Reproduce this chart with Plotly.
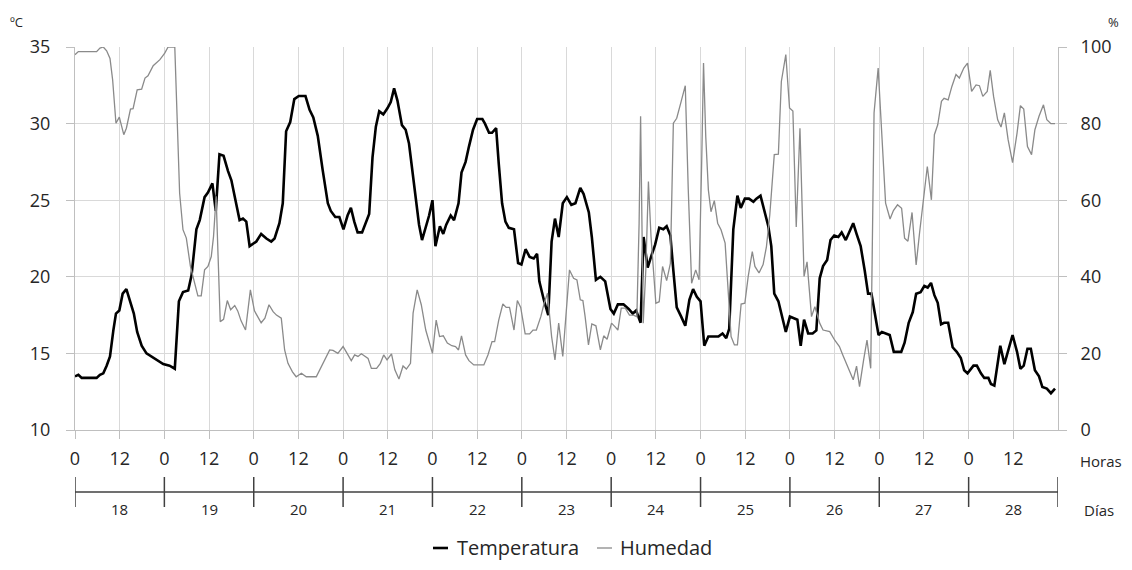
import plotly.graph_objects as go

# ---------------- data (hours since day 18, 00:00) ----------------
temp_hours = [0, 0.9, 1.8, 5.8, 6.7, 7.6, 8.5, 9.4, 10.3, 11.0, 11.9, 12.8, 13.8, 14.7, 15.8, 16.7, 17.9, 19.2, 21.0, 22.3,
              23.7, 25.4, 26.8, 27.9, 29.0, 30.4, 31.3, 32.6, 33.5, 34.8, 35.7, 36.9, 37.8, 38.8, 39.9, 41.1, 42.0, 43.1, 44.2, 45.1,
              46.0, 46.9, 48.7, 50.0, 51.4, 52.7, 53.6, 54.9, 55.8, 56.7, 57.8, 58.9, 60.1, 61.9, 63.0, 64.0, 65.2, 66.5, 67.9, 68.7,
              69.9, 71.0, 72.1, 73.2, 74.1, 75.0, 75.9, 77.1, 78.1, 79.0, 79.9, 80.8, 81.7, 82.8, 83.9, 84.8, 85.7, 86.6, 87.8, 88.8,
              89.7, 90.6, 91.5, 92.4, 93.2, 94.2, 95.1, 96.0, 96.8, 98.0, 98.9, 99.7, 100.9, 101.8, 103.0, 103.8, 104.9, 105.8, 106.9, 108.0,
              109.4, 110.1, 111.2, 112.0, 113.1, 113.8, 114.7, 115.6, 116.5, 117.9, 119.0, 119.9, 121.0, 122.1, 123.2, 124.1, 124.7, 125.9, 127.1, 128.0,
              128.9, 129.9, 131.0, 132.1, 133.3, 134.4, 135.7, 136.6, 138.0, 138.8, 139.9, 141.1, 142.4, 143.8, 144.7, 145.8, 147.3, 148.7, 149.8, 150.7,
              151.3, 151.9, 152.7, 153.8, 154.7, 155.8, 156.9, 158.0, 158.9, 159.9, 160.7, 161.6, 162.8, 163.9, 165.0, 166.0, 167.0, 168.0, 169.0, 170.1,
              171.4, 172.8, 173.9, 174.9, 175.7, 176.8, 177.9, 178.8, 179.9, 181.0, 182.2, 183.0, 184.1, 185.2, 186.2, 187.0, 187.8, 188.9, 189.9, 190.9,
              192.0, 193.3, 194.0, 194.9, 195.8, 196.9, 198.1, 199.1, 200.0, 200.9, 202.0, 202.9, 203.9, 205.0, 205.9, 207.0, 207.8, 209.0, 209.9, 211.0,
              212.1, 213.0, 213.9, 214.8, 215.8, 216.7, 217.9, 218.8, 219.9, 221.9, 222.8, 223.9, 225.0, 225.9, 227.1, 228.1, 229.0, 229.9, 230.8, 231.7,
              232.6, 233.4, 234.5, 235.7, 236.8, 237.9, 238.8, 239.7, 241.3, 242.2, 243.3, 244.2, 245.3, 246.0, 246.9, 247.8, 248.5, 249.6, 250.6, 251.8,
              253.0, 253.9, 254.8, 255.8, 256.7, 257.8, 258.9, 259.8, 261.0, 262.1, 263.2]
temp_values = [13.5, 13.6, 13.4, 13.4, 13.6, 13.7, 14.2, 14.8, 16.5, 17.6, 17.8, 18.9, 19.2, 18.5, 17.6, 16.4, 15.5, 15.0, 14.7, 14.5,
               14.3, 14.2, 14.0, 18.4, 19.0, 19.1, 20.1, 23.1, 23.7, 25.2, 25.5, 26.1, 24.3, 28.0, 27.9, 26.9, 26.3, 25.0, 23.7, 23.8,
               23.6, 22.0, 22.3, 22.8, 22.5, 22.3, 22.5, 23.5, 24.8, 29.5, 30.1, 31.6, 31.8, 31.8, 30.9, 30.4, 29.2, 27.0, 24.8, 24.3,
               23.9, 23.9, 23.1, 24.0, 24.5, 23.6, 22.9, 22.9, 23.5, 24.1, 27.8, 29.8, 30.8, 30.6, 31.0, 31.4, 32.3, 31.5, 29.9, 29.6,
               28.7, 27.0, 25.0, 23.4, 22.4, 23.3, 24.0, 25.0, 22.0, 23.3, 22.8, 23.4, 24.0, 23.7, 24.8, 26.8, 27.5, 28.5, 29.6, 30.3,
               30.3, 30.0, 29.4, 29.4, 29.7, 27.4, 24.8, 23.6, 23.2, 23.1, 20.9, 20.8, 21.8, 21.3, 21.2, 21.5, 19.7, 18.5, 17.5, 22.3,
               23.8, 22.6, 24.8, 25.2, 24.7, 24.8, 25.8, 25.4, 24.2, 22.6, 19.8, 20.0, 19.7, 17.9, 17.6, 18.2, 18.2, 17.9, 17.6, 17.8,
               17.4, 17.0, 22.6, 20.6, 21.3, 22.1, 23.2, 23.1, 23.3, 22.7, 20.4, 18.0, 17.4, 16.8, 18.5, 19.2, 18.7, 18.4, 15.5, 16.1,
               16.1, 16.1, 16.3, 16.0, 16.6, 23.1, 25.3, 24.5, 25.1, 25.1, 24.9, 25.1, 25.3, 24.3, 23.3, 22.0, 18.9, 18.4, 17.3, 16.4,
               17.4, 17.3, 17.2, 15.5, 17.2, 16.3, 16.3, 16.5, 19.9, 20.7, 21.1, 22.4, 22.7, 22.6, 22.9, 22.4, 22.8, 23.5, 22.8, 22.0,
               20.4, 18.9, 18.9, 17.6, 16.2, 16.4, 16.3, 16.2, 15.1, 15.1, 15.7, 17.0, 17.7, 18.9, 19.0, 19.4, 19.3, 19.6, 18.8, 18.3,
               16.9, 17.0, 17.0, 15.4, 15.1, 14.7, 13.9, 13.7, 14.2, 14.2, 13.7, 13.4, 13.4, 13.0, 12.9, 14.3, 15.5, 14.3, 15.2, 16.2,
               15.1, 14.0, 14.2, 15.3, 15.3, 13.9, 13.5, 12.8, 12.7, 12.4, 12.7]

hum_hours = [0, 0.9, 5.8, 6.7, 7.6, 8.5, 9.4, 10.1, 11.0, 11.9, 13.1, 13.8, 14.9, 15.6, 16.7, 17.9, 18.8, 19.6, 21.0, 22.8,
             24.1, 25.0, 26.8, 28.1, 29.0, 29.9, 31.0, 32.1, 33.0, 33.9, 34.8, 35.7, 36.6, 37.2, 37.9, 39.0, 39.9, 40.9, 41.8, 42.9,
             43.7, 44.6, 45.8, 47.1, 48.2, 50.0, 51.0, 52.1, 53.2, 54.1, 55.4, 56.3, 57.2, 58.4, 59.4, 60.8, 62.1, 64.8, 66.2, 67.3,
             68.4, 69.3, 70.6, 72.0, 73.1, 74.2, 75.1, 76.0, 76.9, 77.8, 78.7, 79.6, 81.0, 82.0, 82.9, 83.8, 85.0, 85.9, 87.0, 88.1,
             89.0, 90.1, 90.8, 91.9, 93.0, 94.2, 96.0, 97.0, 97.9, 98.9, 100.0, 101.2, 102.2, 103.0, 103.8, 104.9, 105.8, 107.1, 109.8, 110.9,
             112.0, 112.7, 113.8, 114.9, 115.8, 116.7, 117.9, 118.8, 119.7, 120.9, 122.1, 123.0, 123.9, 125.1, 126.0, 126.9, 128.0, 128.9, 129.9, 131.0,
             131.7, 132.8, 133.9, 134.8, 135.7, 136.4, 137.0, 137.9, 138.8, 139.9, 141.1, 142.0, 142.9, 144.1, 145.0, 145.8, 146.7, 147.8, 148.9, 150.0,
             150.9, 151.5, 151.9, 152.6, 153.3, 154.0, 154.7, 155.3, 156.0, 156.9, 157.8, 158.9, 159.9, 160.7, 161.6, 162.8, 163.9, 164.7, 165.6, 166.7,
             167.6, 168.3, 168.8, 169.4, 170.1, 170.8, 171.7, 172.6, 173.5, 174.6, 175.5, 176.2, 177.1, 177.9, 178.9, 179.9, 180.8, 181.9, 182.6, 183.7,
             184.8, 185.7, 186.6, 187.8, 188.9, 189.7, 190.9, 191.9, 192.8, 193.7, 194.7, 195.8, 196.6, 197.8, 198.7, 200.0, 200.9, 202.7, 204.0, 205.3,
             206.2, 207.1, 208.1, 209.0, 209.9, 210.7, 211.8, 212.7, 213.7, 214.6, 215.7, 216.6, 217.7, 218.9, 219.8, 220.9, 222.0, 222.8, 223.7, 224.8,
             225.9, 226.8, 228.0, 228.9, 230.0, 230.8, 231.7, 232.7, 233.4, 234.5, 235.5, 236.6, 237.5, 238.7, 239.7, 240.8, 242.0, 242.9, 243.8, 245.0,
             245.8, 246.7, 247.8, 248.7, 249.6, 250.6, 251.8, 253.0, 253.9, 254.8, 255.8, 256.9, 257.8, 258.9, 260.1, 261.0, 262.1, 263.2]
hum_values = [98.0, 98.8, 98.8, 99.7, 100.0, 99.0, 97.0, 91.5, 80.1, 81.7, 77.1, 78.8, 83.8, 83.9, 88.8, 89.0, 91.9, 92.5, 95.1, 96.7,
              98.4, 100.0, 100.0, 61.8, 52.3, 50.1, 42.7, 38.3, 35.0, 35.0, 41.8, 42.7, 45.3, 50.5, 61.0, 28.3, 28.9, 33.8, 31.4, 32.5,
              31.1, 28.5, 26.1, 36.6, 31.1, 28.0, 29.2, 32.7, 30.9, 30.0, 29.2, 20.9, 17.4, 15.2, 13.9, 14.8, 13.9, 13.9, 16.5, 18.7,
              20.9, 20.8, 20.0, 21.8, 20.0, 18.1, 19.6, 19.2, 19.9, 19.4, 18.7, 16.1, 16.1, 17.4, 19.6, 18.3, 19.9, 15.7, 13.3, 16.7,
              15.9, 17.4, 30.5, 36.6, 32.7, 26.1, 20.0, 28.7, 24.4, 24.6, 22.7, 22.0, 21.8, 20.9, 24.6, 19.6, 18.1, 17.0, 17.0, 19.6,
              23.1, 23.1, 28.7, 32.9, 32.0, 32.0, 26.1, 33.8, 32.0, 25.1, 25.1, 26.1, 26.1, 29.6, 33.1, 35.7, 24.4, 18.3, 27.9, 19.2,
              28.7, 41.8, 39.6, 39.2, 34.0, 33.8, 29.6, 22.2, 27.7, 27.2, 20.9, 24.6, 23.7, 27.9, 27.0, 26.1, 31.8, 31.8, 30.0, 30.0,
              29.6, 54.0, 81.9, 27.9, 41.8, 64.9, 50.5, 41.8, 33.1, 33.5, 42.7, 39.0, 43.5, 80.1, 81.4, 85.8, 89.9, 62.8, 38.3, 41.8,
              39.2, 69.7, 95.8, 76.6, 62.7, 57.0, 59.9, 54.0, 52.3, 48.8, 33.8, 24.4, 22.2, 22.2, 32.9, 33.1, 40.1, 46.6, 42.7, 41.0,
              43.2, 47.9, 56.2, 71.9, 72.0, 91.0, 98.0, 84.1, 83.3, 53.0, 78.8, 40.1, 43.9, 29.6, 32.2, 27.9, 26.1, 25.7, 23.5, 21.8,
              19.6, 17.4, 15.2, 13.1, 16.7, 11.3, 18.3, 23.5, 16.1, 82.8, 94.5, 78.4, 59.2, 55.1, 57.3, 58.8, 57.9, 50.1, 49.3, 56.8,
              43.1, 51.3, 61.0, 68.8, 60.1, 77.1, 79.7, 85.8, 86.6, 86.2, 89.7, 92.8, 91.9, 94.5, 95.8, 88.4, 90.1, 89.9, 87.1, 88.4,
              93.9, 87.1, 81.0, 79.1, 82.8, 75.8, 69.8, 77.5, 84.7, 83.8, 74.0, 71.9, 78.4, 81.9, 84.9, 81.0, 80.0, 80.0]

hour_ticks = list(range(0, 264, 12))
hour_labels = ["0" if h % 24 == 0 else "12" for h in hour_ticks]
day_labels = ["18", "19", "20", "21", "22", "23", "24", "25", "26", "27", "28"]
series_names = ["Temperatura", "Humedad"]

# ---------------- figure ----------------
FONT = "Open Sans"
GRID = "#d9d9d9"
AXIS = "#bfbfbf"
TXT = "#262626"
TEMP_COLOR = "#000000"
HUM_COLOR = "#8a8a8a"

fig = go.Figure()
fig.add_trace(go.Scatter(x=temp_hours, y=temp_values, mode="lines", name=series_names[0],
                         line=dict(color=TEMP_COLOR, width=2.6), yaxis="y", showlegend=False))
fig.add_trace(go.Scatter(x=hum_hours, y=hum_values, mode="lines", name=series_names[1],
                         line=dict(color=HUM_COLOR, width=1.3), yaxis="y2", showlegend=False))

# the page body adds an 8px offset, so the figure is 8px smaller and shifted
OFF = 8
W, H = 1132 - OFF, 570 - OFF
ml, mr, mt, mb = 75 - OFF, 74, 47 - OFF, 140
pw, ph = W - ml - mr, H - mt - mb


def px_to_paper_x(px):
    return (px - OFF - ml) / pw


def px_to_paper_y(py):
    return (H - mb - (py - OFF)) / ph


fig.update_layout(
    width=W, height=H,
    margin=dict(l=ml, r=mr, t=mt, b=mb, autoexpand=False),
    paper_bgcolor="white", plot_bgcolor="white",
    font=dict(family=FONT, color=TXT, size=18),
    xaxis=dict(range=[0, 264], tickmode="array", tickvals=hour_ticks, ticktext=hour_labels,
               showgrid=True, gridcolor=GRID, gridwidth=1,
               showline=True, linecolor=AXIS, linewidth=1,
               ticks="outside", ticklen=8, tickcolor=AXIS,
               ticklabelstandoff=4, tickfont=dict(size=18, color=TXT),
               zeroline=False, automargin=False),
    yaxis=dict(range=[10, 35], tickmode="linear", tick0=10, dtick=5,
               showgrid=True, gridcolor=GRID, gridwidth=1,
               showline=True, linecolor=AXIS, linewidth=1,
               ticks="outside", ticklen=8, tickcolor=AXIS,
               ticklabelstandoff=12, tickfont=dict(size=18, color=TXT), zeroline=False,
               automargin=False),
    yaxis2=dict(range=[0, 100], tickmode="linear", tick0=0, dtick=20, overlaying="y", side="right",
                showgrid=False, showline=True, linecolor=AXIS, linewidth=1,
                ticks="outside", ticklen=8, tickcolor=AXIS,
                ticklabelstandoff=10, tickfont=dict(size=18, color=TXT), zeroline=False,
                automargin=False),
    showlegend=False,
)

# day bar below the hours axis
bar_y = px_to_paper_y(492)
fig.add_shape(type="line", xref="x", yref="paper", x0=0, x1=264, y0=bar_y, y1=bar_y,
              line=dict(color="#404040", width=1.5))
for k in range(len(day_labels) + 1):
    fig.add_shape(type="line", xref="x", yref="paper", x0=24 * k, x1=24 * k,
                  y0=px_to_paper_y(477), y1=px_to_paper_y(507),
                  line=dict(color="#404040", width=1.5))
for k, lab in enumerate(day_labels):
    fig.add_annotation(x=24 * k + 12, y=px_to_paper_y(509), xref="x", yref="paper",
                       text=lab, showarrow=False, font=dict(size=15, color=TXT),
                       xanchor="center", yanchor="middle")

fig.add_annotation(x=px_to_paper_x(1078), y=px_to_paper_y(461), xref="paper", yref="paper",
                   text="Horas", showarrow=False, font=dict(size=15, color=TXT), xanchor="left", yanchor="middle")
fig.add_annotation(x=px_to_paper_x(1082), y=px_to_paper_y(510), xref="paper", yref="paper",
                   text="Días", showarrow=False, font=dict(size=15, color=TXT), xanchor="left", yanchor="middle")
fig.add_annotation(x=px_to_paper_x(8), y=px_to_paper_y(22), xref="paper", yref="paper",
                   text="ºC", showarrow=False, font=dict(size=13, color=TXT), xanchor="left", yanchor="middle")
fig.add_annotation(x=px_to_paper_x(1106), y=px_to_paper_y(22), xref="paper", yref="paper",
                   text="%", showarrow=False, font=dict(size=13, color=TXT), xanchor="left", yanchor="middle")

# legend (short line samples as in the original)
legend_items = [(series_names[0], TEMP_COLOR, 2.6, 433, 455), (series_names[1], HUM_COLOR, 1.3, 597, 618)]
for name, color, width, lx, tx in legend_items:
    fig.add_shape(type="line", xref="paper", yref="paper",
                  x0=px_to_paper_x(lx), x1=px_to_paper_x(lx + 15),
                  y0=px_to_paper_y(548), y1=px_to_paper_y(548),
                  line=dict(color=color, width=width))
    fig.add_annotation(x=px_to_paper_x(tx), y=px_to_paper_y(547), xref="paper", yref="paper",
                       text=name, showarrow=False, font=dict(size=20, color=TXT),
                       xanchor="left", yanchor="middle")

fig.write_html("out.html")
